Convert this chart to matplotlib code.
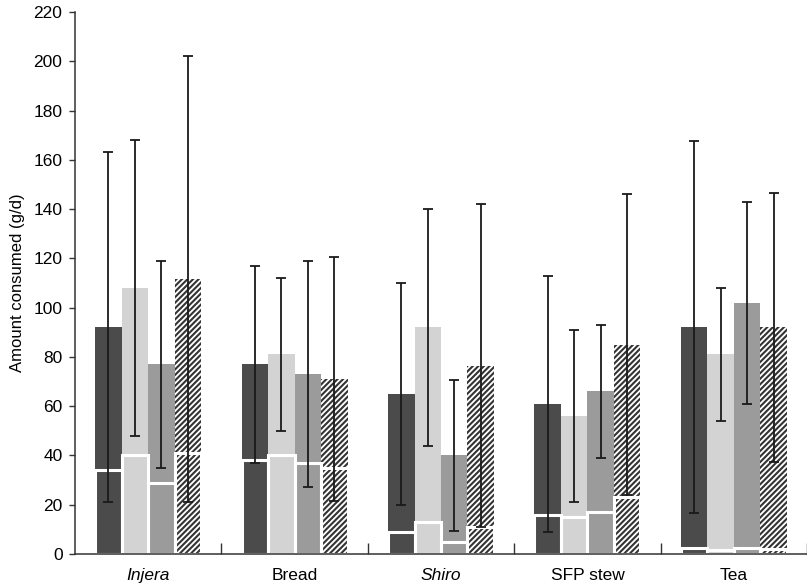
import matplotlib
matplotlib.use("Agg")
import matplotlib.pyplot as plt
import numpy as np

# données (g/d)
foods = ["Injera", "Bread", "Shiro", "SFP stew", "Tea"]
italic_foods = ["Injera", "Shiro"]

mean_s1 = [92, 77, 65, 61, 92]
mean_s2 = [108, 81, 92, 56, 81]
mean_s3 = [77, 73, 40, 66, 102]
mean_s4 = [111.5, 71, 76.5, 85, 92]

inner_s1 = [34, 38, 9, 16, 2.5]
inner_s2 = [40, 40, 13, 15, 1.5]
inner_s3 = [29, 37, 5, 17, 2.5]
inner_s4 = [41, 35, 11, 23, 2]

sd_s1 = [71, 40, 45, 52, 75.5]
sd_s2 = [60, 31, 48, 35, 27]
sd_s3 = [42, 46, 30.5, 27, 41]
sd_s4 = [90.5, 49.5, 65.5, 61, 54.5]

plt.rcParams["font.family"] = ["Liberation Sans", "DejaVu Sans"]
plt.rcParams["hatch.linewidth"] = 1.5
plt.rcParams["hatch.color"] = "#333333"

fig = plt.figure(figsize=(8.07, 5.84), dpi=100)
ax = fig.add_axes([75 / 807, 30 / 584, 732 / 807, 542 / 584])

x = np.arange(len(foods))
w = 0.181
offsets = [-1.5 * w, -0.5 * w, 0.5 * w, 1.5 * w]
series = [
    (mean_s1, inner_s1, sd_s1, "#4b4b4b", None),
    (mean_s2, inner_s2, sd_s2, "#d3d3d3", None),
    (mean_s3, inner_s3, sd_s3, "#9b9b9b", None),
    (mean_s4, inner_s4, sd_s4, "white", "//////"),
]

for off, (mean, inner, sd, col, hatch) in zip(offsets, series):
    xs = x + off
    ax.bar(xs, mean, w, color=col, hatch=hatch, edgecolor="#333333" if hatch else col,
           linewidth=0, zorder=2)
    ax.bar(xs, inner, w, color=col, hatch=hatch, edgecolor="#333333" if hatch else col,
           linewidth=0, zorder=3)
    # contour blanc de la partie basse
    ax.bar(xs, inner, w, fill=False, edgecolor="white", linewidth=2.2, zorder=4)
    ax.errorbar(xs, mean, yerr=sd, fmt="none", ecolor="#1a1a1a", elinewidth=1.3,
                capsize=3.6, capthick=1.3, zorder=5)

ax.set_xlim(-0.5, len(foods) - 0.5)
ax.set_ylim(0, 220)
ax.set_yticks(np.arange(0, 221, 20))
ax.set_ylabel("Amount consumed (g/d)", fontsize=12, labelpad=6)

# ticks entre les groupes, labels au centre
ax.set_xticks(np.arange(0.5, len(foods), 1.0))
ax.set_xticklabels([])
ax.set_xticks(x, minor=True)
ax.set_xticklabels(foods, minor=True, fontsize=12.5)
for lab in ax.get_xticklabels(minor=True):
    if lab.get_text() in italic_foods:
        lab.set_fontstyle("italic")
ax.tick_params(axis="x", which="major", direction="in", length=8, width=1, color="#333333")
ax.tick_params(axis="x", which="minor", length=0, pad=10)
ax.tick_params(axis="y", direction="out", length=4, width=1, color="#333333",
               labelsize=12.5, pad=5)

for s in ["top", "right"]:
    ax.spines[s].set_visible(False)
for s in ["left", "bottom"]:
    ax.spines[s].set_color("#333333")
    ax.spines[s].set_linewidth(1.1)
    ax.spines[s].set_zorder(6)

fig.savefig("out.png", dpi=100)
